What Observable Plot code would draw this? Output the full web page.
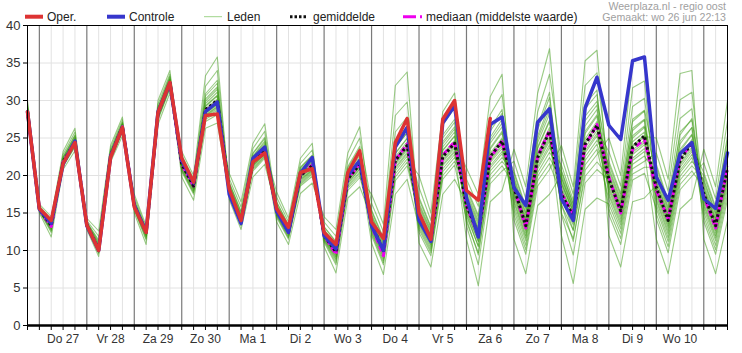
<!DOCTYPE html>
<html>
<head>
<meta charset="utf-8">
<script src="https://cdn.jsdelivr.net/npm/d3@7"></script>
<script src="https://cdn.jsdelivr.net/npm/@observablehq/plot@0.6"></script>
<style>
  html, body { margin: 0; padding: 0; background: #fff; }
  body { width: 742px; height: 353px; overflow: hidden; font-family: "Liberation Sans", Arial, sans-serif; }
  #legend { display: block; }
  #chart svg { overflow: visible; }
</style>
</head>
<body>
<svg id="legend" width="742" height="24" xmlns="http://www.w3.org/2000/svg" font-family="Liberation Sans, Arial, sans-serif">
  <line x1="25" x2="43" y1="16.7" y2="16.7" stroke="#dd3333" stroke-width="4"/>
  <text x="47" y="21" font-size="12" fill="#222">Oper.</text>
  <line x1="107" x2="125" y1="16.7" y2="16.7" stroke="#3636cc" stroke-width="4"/>
  <text x="129" y="21" font-size="12" fill="#222">Controle</text>
  <line x1="204" x2="222" y1="16.7" y2="16.7" stroke="#9fd48a" stroke-width="1"/>
  <text x="227" y="21" font-size="12" fill="#222">Leden</text>
  <line x1="290" x2="307" y1="16.7" y2="16.7" stroke="#111" stroke-width="3" stroke-dasharray="2.5,2"/>
  <text x="313" y="21" font-size="12" fill="#222">gemiddelde</text>
  <line x1="403" x2="422" y1="16.7" y2="16.7" stroke="#ee00ee" stroke-width="3" stroke-dasharray="13,4"/>
  <text x="426" y="21" font-size="12" fill="#222">mediaan (middelste waarde)</text>
  <text x="726" y="9.5" font-size="10.6" fill="#a0a0a0" text-anchor="end">Weerplaza.nl - regio oost</text>
  <text x="726" y="20.5" font-size="10.6" fill="#a0a0a0" text-anchor="end">Gemaakt: wo 26 jun 22:13</text>
</svg>
<div id="chart"></div>
<script>
// Time steps: every 6 hours, step 0 = wo 26 jun 18:00, step 59 = do 11 jul 12:00
const dayLabels = ["Do 27","Vr 28","Za 29","Zo 30","Ma 1","Di 2","Wo 3","Do 4","Vr 5","Za 6","Zo 7","Ma 8","Di 9","Wo 10"];
const yTickValues = [0,5,10,15,20,25,30,35,40];

// Operational run (ends at za 6 18:00)
const oper = [28.5,15.6,14.0,21.6,24.4,13.4,10.0,22.4,26.4,15.8,12.4,28.4,32.4,22.3,19.1,28.0,28.2,18.2,14.0,21.8,
  23.0,15.6,13.1,20.4,20.9,12.4,10.8,20.4,23.3,13.8,11.6,24.4,27.6,15.0,11.5,27.5,30.0,18.0,16.7,27.6];

// Control run
const controle = [28.5,15.5,13.6,21.5,24.6,13.3,10.0,22.5,26.4,16.0,12.5,28.5,32.3,22.0,19.0,28.5,29.8,17.5,13.6,22.3,
  23.8,15.2,12.4,20.3,22.4,12.0,10.2,20.0,22.0,13.3,10.0,23.8,26.4,14.0,11.2,27.0,29.3,17.0,11.8,26.8,
  27.8,18.4,16.0,27.1,28.9,16.9,14.0,29.0,33.1,26.7,24.8,35.3,35.8,19.8,16.7,22.9,24.4,16.9,15.6,23.0];

// Ensemble mean
const gemiddelde = [28.5,15.5,13.3,21.8,24.5,13.4,10.2,22.6,26.5,16.0,12.4,28.3,32.4,21.5,18.6,28.8,30.0,18.0,14.0,21.8,
  23.4,15.3,12.5,20.0,21.3,12.0,9.8,19.5,21.5,13.5,10.0,22.0,24.0,14.5,11.5,22.5,24.3,16.0,12.2,22.5,
  24.6,18.4,13.3,22.4,25.9,17.5,14.6,24.2,26.7,19.5,15.3,23.8,25.3,18.4,14.0,22.0,24.4,17.6,13.3,21.0];

// Ensemble median
const mediaan = [28.5,15.5,13.2,21.8,24.5,13.4,10.1,22.6,26.5,16.0,12.4,28.3,32.4,21.5,18.6,28.6,29.8,18.0,14.0,21.8,
  23.4,15.3,12.4,20.0,21.4,12.0,9.5,19.5,21.6,13.3,9.3,22.0,24.2,14.3,11.3,22.7,24.5,16.0,12.0,22.4,
  24.5,18.5,13.0,22.6,26.0,17.6,14.8,24.0,26.8,19.8,15.0,23.5,24.8,18.0,14.2,22.3,24.2,17.3,13.0,21.2];

// Ensemble members ("Leden"): one row per time step, one column per member
const leden = [
  [27.5,27.9,28.1,28.3,28.4,28.4,28.5,28.6,28.7,28.8,29.0,29.2,29.6,30.0, 28.7,28.2,29.1,28.4,28.0,28.9,28.3,28.5],
  [15.0,15.2,15.3,15.4,15.4,15.5,15.5,15.5,15.6,15.7,15.7,15.8,16.0,16.2, 15.6,15.3,15.8,15.5,15.3,15.7,15.4,15.5],
  [11.8,12.4,12.7,12.9,13.1,13.2,13.3,13.4,13.5,13.6,13.7,13.9,14.1,14.5, 13.5,12.8,13.8,13.2,12.6,13.6,13.0,13.3],
  [20.8,21.2,21.4,21.6,21.7,21.7,21.8,21.9,22.0,22.1,22.3,22.5,22.8,23.2, 22.0,21.5,22.4,21.7,21.3,22.2,21.6,21.8],
  [23.3,23.8,24.0,24.2,24.3,24.4,24.5,24.6,24.7,24.9,25.1,25.4,25.8,26.3, 24.8,24.1,25.3,24.4,23.9,25.0,24.3,24.6],
  [13.5,13.2,14.0,12.8,13.6,13.3,14.3,13.4,13.7,13.0,13.8,13.4,13.3,13.5, 13.3,13.7,13.1,13.4,13.8,13.2,13.5,13.3],
  [10.3,9.8,11.9,9.2,10.7,10.1,12.6,10.1,11.0,9.6,11.4,10.2,10.0,10.5, 10.0,10.9,9.7,10.3,11.2,9.9,10.6,10.1],
  [22.7,22.3,23.6,21.8,22.9,22.5,24.0,22.6,23.1,22.1,23.3,22.6,22.4,22.8, 22.4,23.0,22.2,22.6,23.2,22.3,22.8,22.5],
  [26.6,26.0,27.4,25.3,26.8,26.3,27.8,26.4,26.9,25.8,27.1,26.5,26.2,26.7, 26.3,26.9,25.9,26.5,27.0,26.1,26.7,26.4],
  [15.8,16.5,15.9,17.5,15.4,16.2,15.0,16.7,16.0,17.1,15.6,16.3,16.1,15.9, 16.4,15.9,16.2,15.5,15.8,16.6,16.0,15.7],
  [12.0,12.7,12.3,13.3,11.4,12.5,10.8,12.8,12.4,13.0,11.8,12.6,12.5,12.2, 12.7,12.2,12.5,11.6,12.1,12.8,12.4,11.9],
  [27.9,28.9,28.2,30.0,27.4,28.5,26.8,29.1,28.3,29.5,27.7,28.7,28.4,28.1, 28.8,28.2,28.6,27.6,28.0,29.0,28.4,27.8],
  [32.1,32.9,32.3,34.0,31.6,32.6,31.0,33.2,32.4,33.5,31.8,32.8,32.5,32.2, 32.8,32.3,32.6,31.7,32.1,33.1,32.4,32.0],
  [22.3,21.5,19.8,21.7,23.2,21.1,21.9,20.5,21.3,22.7,21.6,22.1,21.4,20.8, 20.7,20.9,21.2,21.3,21.6,21.8,22.0,22.2],
  [19.3,18.6,16.7,18.8,20.0,18.1,18.9,17.5,18.3,19.6,18.7,19.1,18.5,17.8, 17.7,18.0,18.2,18.4,18.6,18.8,19.0,19.2],
  [30.9,28.6,26.3,29.2,33.3,28.0,29.6,27.2,28.3,31.9,28.9,30.2,28.5,27.7, 27.5,27.9,28.1,28.4,28.7,29.3,29.9,30.6],
  [32.7,29.8,27.0,30.6,35.8,29.1,31.1,28.1,29.4,34.0,30.2,31.8,29.6,28.7, 28.4,28.9,29.2,29.5,30.0,30.7,31.5,32.3],
  [16.8,17.3,17.5,17.7,17.8,17.9,18.0,18.1,18.3,18.5,18.8,19.1,19.6,20.3, 18.3,17.6,19.0,17.9,17.4,18.6,17.8,18.1],
  [12.8,13.3,13.5,13.7,13.8,13.9,14.0,14.2,14.3,14.6,14.8,15.2,15.8,16.5, 14.4,13.6,15.1,13.9,13.4,14.7,13.8,14.1],
  [19.8,20.6,21.0,21.3,21.5,21.7,21.8,22.0,22.1,22.4,22.6,23.0,23.6,24.3, 22.2,21.2,22.9,21.6,20.8,22.5,21.4,21.9],
  [21.5,22.3,22.6,22.9,23.1,23.3,23.4,23.6,23.9,24.2,24.6,25.1,25.9,26.9, 23.9,22.8,24.9,23.2,22.5,24.4,23.0,23.5],
  [15.5,14.7,17.1,13.8,15.8,15.1,17.8,15.2,16.1,14.4,16.5,15.3,14.9,15.6, 15.0,16.0,14.6,15.4,16.4,14.8,15.7,15.2],
  [12.6,11.8,13.8,10.8,12.9,12.3,14.3,12.4,13.1,11.5,13.4,12.5,12.1,12.7, 12.2,13.0,11.7,12.6,13.3,12.0,12.8,12.3],
  [20.1,19.0,21.6,17.6,20.5,19.7,22.3,19.9,20.8,18.6,21.1,20.0,19.4,20.3, 19.5,20.6,18.8,20.1,21.0,19.2,20.3,19.8],
  [21.5,20.4,23.4,19.0,22.0,21.0,24.3,21.2,22.3,19.9,22.7,21.3,20.7,21.7, 20.8,22.1,20.2,21.4,22.6,20.6,21.8,21.1],
  [11.6,12.8,11.9,14.5,11.1,12.3,10.5,13.2,12.0,13.8,11.4,12.6,12.2,11.8, 12.7,11.9,12.4,11.3,11.7,13.1,12.1,11.5],
  [9.1,10.8,9.6,12.8,8.1,10.2,7.0,11.2,9.8,11.9,8.7,10.5,10.0,9.4, 10.6,9.5,10.3,8.4,9.2,11.1,9.9,8.9],
  [18.9,20.7,19.4,23.0,18.0,20.0,17.0,21.2,19.5,22.0,18.5,20.3,19.7,19.2, 20.5,19.3,20.0,18.3,19.0,21.0,19.6,18.7],
  [20.8,23.2,21.3,26.5,19.7,22.2,18.5,23.9,21.5,25.0,20.3,22.6,21.8,21.1, 22.9,21.2,22.3,20.0,20.9,23.6,21.7,20.5],
  [15.4,13.5,11.0,14.0,17.5,12.9,14.4,12.0,13.2,16.3,13.7,14.8,13.4,12.5, 12.3,12.7,13.0,13.3,13.6,14.1,14.6,15.2],
  [11.7,10.0,6.8,10.5,13.5,9.2,10.8,8.1,9.6,12.5,10.2,11.2,9.8,8.7, 8.4,9.0,9.4,9.7,10.1,10.5,11.0,11.5],
  [25.8,22.0,17.5,23.0,32.0,20.9,23.7,19.3,21.4,28.0,22.5,24.6,21.7,20.2, 19.8,20.6,21.1,21.6,22.2,22.9,23.7,24.5],
  [27.8,24.0,19.5,25.0,33.8,22.9,25.7,21.3,23.4,29.8,24.5,26.6,23.7,22.2, 21.8,22.6,23.1,23.6,24.2,24.9,25.7,26.5],
  [11.0,12.4,13.1,13.6,14.0,14.3,14.5,14.8,15.2,15.7,16.3,17.1,18.4,20.0, 15.3,13.4,16.8,14.2,12.8,16.0,13.8,14.7],
  [7.8,9.3,10.0,10.6,11.0,11.3,11.5,11.7,12.0,12.3,12.7,13.2,14.0,15.0, 12.0,10.3,13.0,11.1,9.7,12.5,10.8,11.6],
  [17.5,19.5,20.5,21.3,21.8,22.2,22.5,22.9,23.3,23.8,24.5,25.4,26.7,28.5, 23.4,20.9,25.0,22.0,20.0,24.2,21.5,22.7],
  [19.5,21.4,22.4,23.1,23.6,24.0,24.3,24.7,25.2,25.8,26.5,27.5,29.0,31.0, 25.3,22.8,27.1,23.8,21.9,26.2,23.3,24.5],
  [16.3,14.2,19.5,11.5,17.1,15.4,21.0,15.7,17.7,13.3,18.4,16.0,14.9,16.7, 15.1,17.4,13.8,16.2,18.1,14.6,16.8,15.6],
  [12.5,9.4,15.9,5.3,13.4,11.2,17.5,11.8,14.0,8.1,14.7,12.2,10.5,12.9, 11.2,13.7,9.7,12.4,14.4,10.6,13.0,11.7],
  [23.0,20.1,28.1,16.5,24.3,21.7,30.5,22.1,25.1,18.9,26.3,22.5,21.0,23.5, 21.3,24.7,19.5,22.7,25.9,20.6,23.7,21.9],
  [25.0,21.9,30.8,18.0,26.5,23.6,33.5,24.1,27.5,20.6,28.8,24.5,22.9,25.7, 23.2,27.0,21.3,24.8,28.3,22.4,25.9,23.9],
  [16.4,19.8,17.6,23.5,14.1,18.7,11.5,20.6,18.0,21.9,15.4,19.2,18.3,17.1, 19.5,17.4,18.8,14.8,16.7,20.3,18.2,15.9],
  [11.7,15.0,12.9,18.5,9.5,14.0,6.9,15.8,13.3,16.9,10.7,14.4,13.6,12.4, 14.8,12.7,14.1,10.1,12.0,15.5,13.5,11.3],
  [20.9,25.3,22.1,31.0,18.6,23.6,16.0,26.6,22.5,28.5,19.9,24.4,23.0,21.6, 24.9,21.9,23.8,19.3,21.2,26.1,22.8,20.4],
  [23.7,29.4,25.2,36.9,20.8,27.2,17.5,31.1,25.7,33.5,22.4,28.2,26.4,24.6, 28.8,24.9,27.4,21.6,24.1,30.4,26.0,23.1],
  [21.4,19.0,12.0,19.7,24.0,17.3,20.1,14.8,18.0,22.5,19.3,20.7,18.6,16.2, 15.0,16.1,16.8,17.4,18.2,18.9,19.7,20.5],
  [16.7,15.0,5.6,15.5,18.5,12.7,15.8,9.4,13.7,17.5,15.2,16.2,14.4,11.2, 11.6,12.7,13.4,14.0,14.7,15.2,15.7,16.2],
  [29.5,24.2,15.5,25.6,35.3,22.0,26.6,19.0,23.0,32.0,24.9,27.9,23.7,20.7, 19.9,21.4,22.5,23.3,24.5,25.9,27.3,28.9],
  [31.4,26.6,17.0,27.9,36.7,24.2,28.8,20.8,25.3,33.7,27.2,29.9,26.0,22.8, 21.8,23.5,24.7,25.6,26.9,28.1,29.4,30.8],
  [12.0,14.8,16.2,17.3,18.0,18.6,19.0,19.4,19.8,20.3,21.0,21.9,23.2,25.0, 19.9,16.8,21.5,18.3,15.5,20.7,17.6,19.2],
  [7.8,10.8,12.3,13.4,14.2,14.9,15.3,15.6,15.9,16.3,16.9,17.6,18.6,20.0, 16.0,12.9,17.3,14.6,11.6,16.6,13.8,15.4],
  [16.5,19.4,20.9,22.0,22.8,23.4,23.8,24.5,25.3,26.3,27.5,29.2,31.7,35.1, 25.0,21.5,27.2,23.1,20.2,26.0,22.3,24.0],
  [17.0,20.3,21.9,23.2,24.1,24.7,25.2,25.8,26.6,27.5,28.7,30.3,32.6,35.8, 26.4,22.6,28.6,24.4,21.1,27.4,23.6,25.4],
  [18.7,15.6,23.0,11.5,19.8,17.3,25.0,17.9,20.5,14.2,21.5,18.3,16.6,19.2, 16.9,20.2,14.9,18.5,21.1,16.1,19.3,17.6],
  [14.3,11.2,17.9,6.9,15.2,13.0,19.5,13.6,15.8,9.7,16.6,14.0,12.2,14.7, 12.6,15.5,10.5,14.2,16.3,11.7,14.8,13.3],
  [22.7,19.4,30.1,15.5,24.6,21.1,33.6,21.6,25.8,18.1,27.6,22.0,20.4,23.5, 20.7,24.2,18.8,22.2,25.4,19.9,23.2,21.4],
  [24.8,21.3,31.1,17.0,26.4,23.2,34.0,23.8,27.4,19.9,28.9,24.2,22.4,25.5, 22.8,26.4,20.6,24.4,27.6,21.9,25.4,23.5],
  [16.0,19.5,17.1,23.5,13.9,18.3,11.5,20.4,17.5,21.7,15.1,18.8,17.9,16.7, 19.2,16.9,18.4,14.5,16.3,20.0,17.7,15.6],
  [11.7,15.0,12.9,18.5,9.5,14.0,6.9,15.8,13.3,16.9,10.7,14.4,13.6,12.4, 14.8,12.7,14.1,10.1,12.0,15.5,13.5,11.3],
  [19.3,24.0,20.6,30.0,16.8,22.2,14.0,25.3,21.0,27.3,18.2,23.0,21.5,20.0, 23.5,20.3,22.4,17.5,19.6,24.8,21.3,18.8]
];

// Build tidy tables from the arrays
const steps = d3.range(leden.length);
const ledenData = leden.flatMap((row, t) => row.map((v, m) => ({t, v, m})));
const operData = oper.map((v, t) => ({t, v}));
const ctrlData = controle.map((v, t) => ({t, v}));
const meanData = gemiddelde.map((v, t) => ({t, v}));
const medData = mediaan.map((v, t) => ({t, v}));
const dayStarts = steps.filter(t => t % 4 === 1);          // 00:00 of each day
const sixHour = steps.filter(t => t % 4 !== 1);           // other 6-hour grid lines
const noon = dayLabels.map((_, k) => 3 + 4 * k);          // label position (12:00)

const font = "Liberation Sans, Arial, sans-serif";

const chart = Plot.plot({
  width: 742,
  height: 329,
  marginLeft: 27,
  marginRight: 15,
  marginTop: 1,
  marginBottom: 28,
  style: {fontFamily: font, background: "#fff", overflow: "visible"},
  x: {domain: [0, steps.length - 1], axis: null},
  y: {domain: [0, 40], axis: null},
  marks: [
    Plot.ruleY(yTickValues.slice(1, -1), {stroke: "#e2e2e2", strokeWidth: 1}),
    Plot.ruleX(sixHour, {stroke: "#e2e2e2", strokeWidth: 1}),
    Plot.ruleX(dayStarts, {stroke: "#7a7a7a", strokeWidth: 1.2}),
    Plot.line(ledenData, {x: "t", y: "v", z: "m", stroke: "#389a0e", strokeOpacity: 0.5, strokeWidth: 1.1}),
    Plot.line(medData, {x: "t", y: "v", stroke: "#ee00ee", strokeWidth: 3, strokeDasharray: "6,3", strokeLinecap: "butt"}),
    Plot.line(meanData, {x: "t", y: "v", stroke: "#111", strokeWidth: 3, strokeDasharray: "2.5,2.5", strokeLinecap: "butt"}),
    Plot.line(ctrlData, {x: "t", y: "v", stroke: "#3636cc", strokeWidth: 3.5}),
    Plot.line(operData, {x: "t", y: "v", stroke: "#dd3333", strokeWidth: 3.5}),
    Plot.frame({stroke: "#000", strokeWidth: 1}),
    Plot.ruleY([0], {stroke: "#000", strokeWidth: 2.5}),
    Plot.axisY(yTickValues, {tickSize: 4, tickPadding: 3, fontSize: 13, color: "#333", stroke: "#000", label: null}),
    Plot.axisX(steps, {tickSize: 5, tickFormat: () => "", stroke: "#000", label: null}),
    Plot.axisX(noon, {tickSize: 0, tickPadding: 9, fontSize: 12, color: "#333", label: null,
      tickFormat: t => dayLabels[(t - 3) / 4]})
  ]
});
document.getElementById("chart").appendChild(chart);
</script>
</body>
</html>
